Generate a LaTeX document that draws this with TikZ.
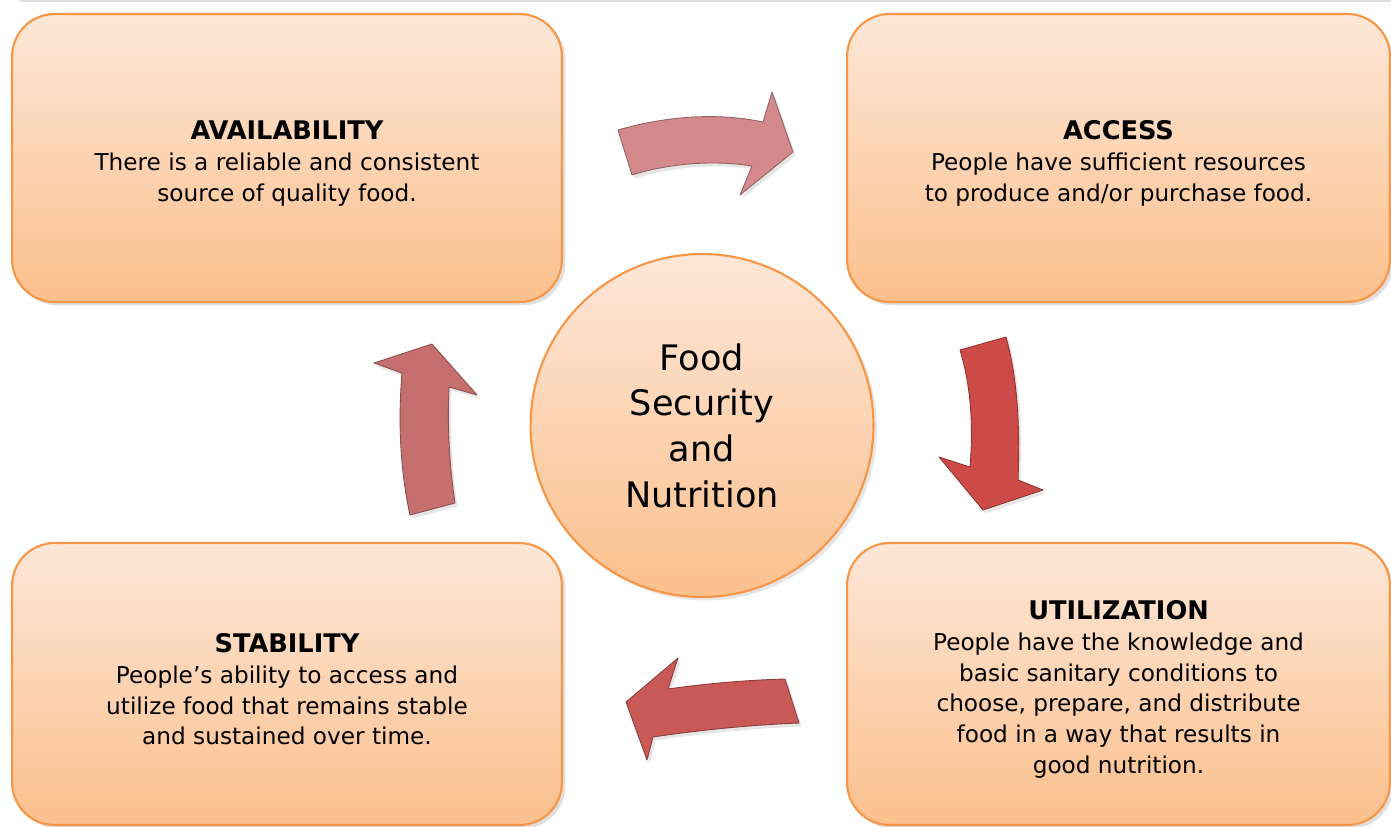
\documentclass[tikz,border=0pt]{standalone}
\usepackage{fontspec}
\setmainfont{DejaVu Sans}
\usetikzlibrary{shadows,positioning}

\definecolor{boxtop}{HTML}{FDE7D8}
\definecolor{boxbot}{HTML}{FBC08D}
\definecolor{boxline}{HTML}{F79646}
\definecolor{arrowA}{HTML}{D48A8C}
\definecolor{arrowB}{HTML}{CC4A47}
\definecolor{arrowC}{HTML}{C85957}
\definecolor{arrowD}{HTML}{C66F6F}
\newcommand{\pillarhead}[1]{{\fontsize{14.6}{17.5}\selectfont\bfseries\rule{0pt}{17pt}#1}}

\begin{document}
\begin{tikzpicture}[x=0.02cm,y=-0.02cm]
    % `pillar' is used for the four rounded boxes.
    % `core' is used for the circle in the middle.
    % `cyclearrow' is used for the curved block arrows.
    \tikzstyle{pillar} = [draw=boxline,line width=1.2pt,top color=boxtop,bottom color=boxbot,
        rounded corners=0.85cm,minimum width=11cm,align=center,
        drop shadow={opacity=0.25,shadow xshift=2pt,shadow yshift=-2pt},
        font=\fontsize{13.2}{17.5}\selectfont]
    \tikzstyle{core} = [draw=boxline,line width=1.2pt,top color=boxtop,bottom color=boxbot,
        circle,minimum size=6.86cm,align=center,
        drop shadow={opacity=0.2,shadow xshift=2pt,shadow yshift=-2pt},
        font=\fontsize{20}{26}\selectfont]
    \tikzstyle{cyclearrow} = [line width=0.5pt,line join=round,
        drop shadow={opacity=0.2,shadow xshift=1.5pt,shadow yshift=-2pt}]
    %
    \useasboundingbox (0,0) rectangle (1391,827);
    % faint edge at the top
    \draw[gray!25,line width=1.5pt] (20,1) -- (1391,1);
    %
    \node[pillar,minimum height=5.76cm] (avail) at (287,158)
      {\pillarhead{AVAILABILITY}\\There is a reliable and consistent\\source of quality food.};
    \node[pillar,minimum height=5.76cm,minimum width=10.86cm] (access) at (1118.5,158)
      {\pillarhead{ACCESS}\\People have sufficient resources\\to produce and/or purchase food.};
    \node[pillar,minimum height=5.64cm] (stab) at (287,684)
      {\pillarhead{STABILITY}\\People’s ability to access and\\utilize food that remains stable\\and sustained over time.};
    \node[pillar,minimum height=5.64cm,minimum width=10.86cm] (util) at (1118.5,684)
      {\pillarhead{UTILIZATION}\\People have the knowledge and\\basic sanitary conditions to\\choose, prepare, and distribute\\food in a way that results in\\good nutrition.};
    \node[core] (fsn) at (702,425.5) {Food\\Security\\and\\Nutrition};
    %
    % Draw curved arrows.
    \filldraw[cyclearrow,fill=arrowA,draw=arrowA!70!black] (618,130) .. controls (670,115) and (720,113) .. (763,122)
      -- (772,92) -- (793,152) -- (740,195) -- (752,166)
      .. controls (715,160) and (670,163) .. (632,175) -- cycle;
    \filldraw[cyclearrow,fill=arrowB,draw=arrowB!70!black] (960,350) -- (1006,337)
      .. controls (1018,380) and (1020,430) .. (1018,480)
      -- (1043,490) -- (983,510) -- (939,457) -- (970,467)
      .. controls (973,430) and (972,390) .. (960,350) -- cycle;
    \filldraw[cyclearrow,fill=arrowC,draw=arrowC!70!black] (626,702) -- (678,658) -- (668,689)
      .. controls (710,683) and (750,680) .. (785,679) -- (799,723)
      .. controls (750,725) and (700,730) .. (653,737) -- (647,760) -- cycle;
    \filldraw[cyclearrow,fill=arrowD,draw=arrowD!70!black] (432,344) -- (477,395) -- (449,387)
      .. controls (447,430) and (450,470) .. (455,503) -- (410,515)
      .. controls (400,470) and (398,420) .. (402,373) -- (374,363) -- cycle;
\end{tikzpicture}
\end{document}
